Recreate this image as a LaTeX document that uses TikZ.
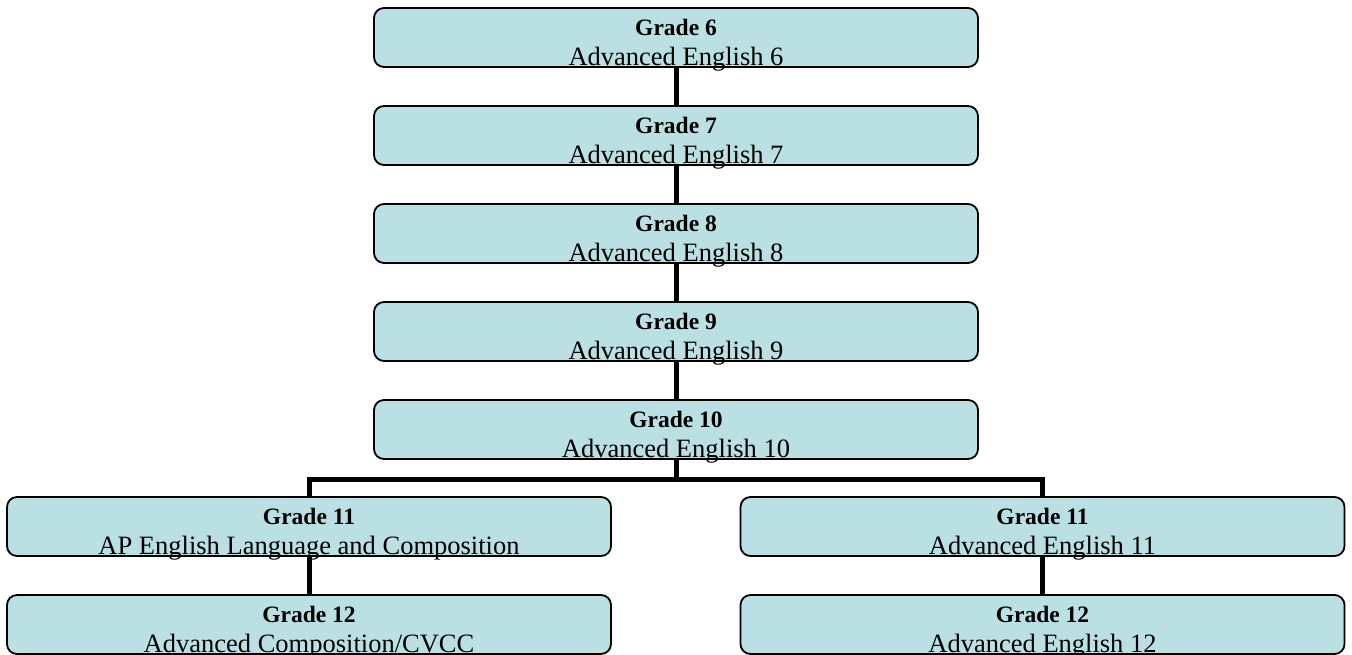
\documentclass[tikz,border=0pt]{standalone}
\usepackage{fontspec}
\setmainfont{Liberation Serif}
\usetikzlibrary{positioning}

\definecolor{boxblue}{RGB}{186,224,227}

\tikzset{
  cbox/.style={draw=black, line width=0.9pt, fill=boxblue, rounded corners=5pt,
    minimum width=302pt, minimum height=29.5pt, inner sep=0pt},
  ctext/.style={align=center, inner sep=0pt, font=\fontsize{13.25}{15}\selectfont},
  link/.style={line width=2.5pt, black}
}
\newcommand{\ttl}[1]{{\fontsize{11.75}{15}\selectfont\bfseries #1}}

\begin{document}
\begin{tikzpicture}[x=0.5pt,y=0.5pt]
\useasboundingbox (0,0) rectangle (1352,-654);

% middle column
\node[cbox] (g6) at (676,-37.5) {};
\node[cbox] (g7) at (676,-135.5) {};
\node[cbox] (g8) at (676,-233.5) {};
\node[cbox] (g9) at (676,-331.5) {};
\node[cbox] (g10) at (676,-429.5) {};

% two tracks
\node[cbox] (l11) at (309,-526.5) {};
\node[cbox] (l12) at (309,-624.5) {};
\node[cbox] (r11) at (1042.5,-526.5) {};
\node[cbox] (r12) at (1042.5,-624.5) {};

% texts
\node[ctext] (g6t) at ([yshift=-4pt]g6.center) {\ttl{Grade 6}\\Advanced English 6};
\node[ctext] (g7t) at ([yshift=-4pt]g7.center) {\ttl{Grade 7}\\Advanced English 7};
\node[ctext] (g8t) at ([yshift=-4pt]g8.center) {\ttl{Grade 8}\\Advanced English 8};
\node[ctext] (g9t) at ([yshift=-4pt]g9.center) {\ttl{Grade 9}\\Advanced English 9};
\node[ctext] (g10t) at ([yshift=-4pt]g10.center) {\ttl{Grade 10}\\Advanced English 10};
\node[ctext] (l11t) at ([yshift=-4pt]l11.center) {\ttl{Grade 11}\\AP English Language and Composition};
\node[ctext] (l12t) at ([yshift=-4pt]l12.center) {\ttl{Grade 12}\\Advanced Composition/CVCC};
\node[ctext] (r11t) at ([yshift=-4pt]r11.center) {\ttl{Grade 11}\\Advanced English 11};
\node[ctext] (r12t) at ([yshift=-4pt]r12.center) {\ttl{Grade 12}\\Advanced English 12};

% connectors
\draw[link] (g6.south) -- (g7.north);
\draw[link] (g7.south) -- (g8.north);
\draw[link] (g8.south) -- (g9.north);
\draw[link] (g9.south) -- (g10.north);
\coordinate (split) at ([yshift=-10pt]g10.south);
\draw[link] (g10.south) -- (split);
\draw[link] (l11.north) |- (split) -| (r11.north);
\draw[link] (l11.south) -- (l12.north);
\draw[link] (r11.south) -- (r12.north);
\end{tikzpicture}
\end{document}
